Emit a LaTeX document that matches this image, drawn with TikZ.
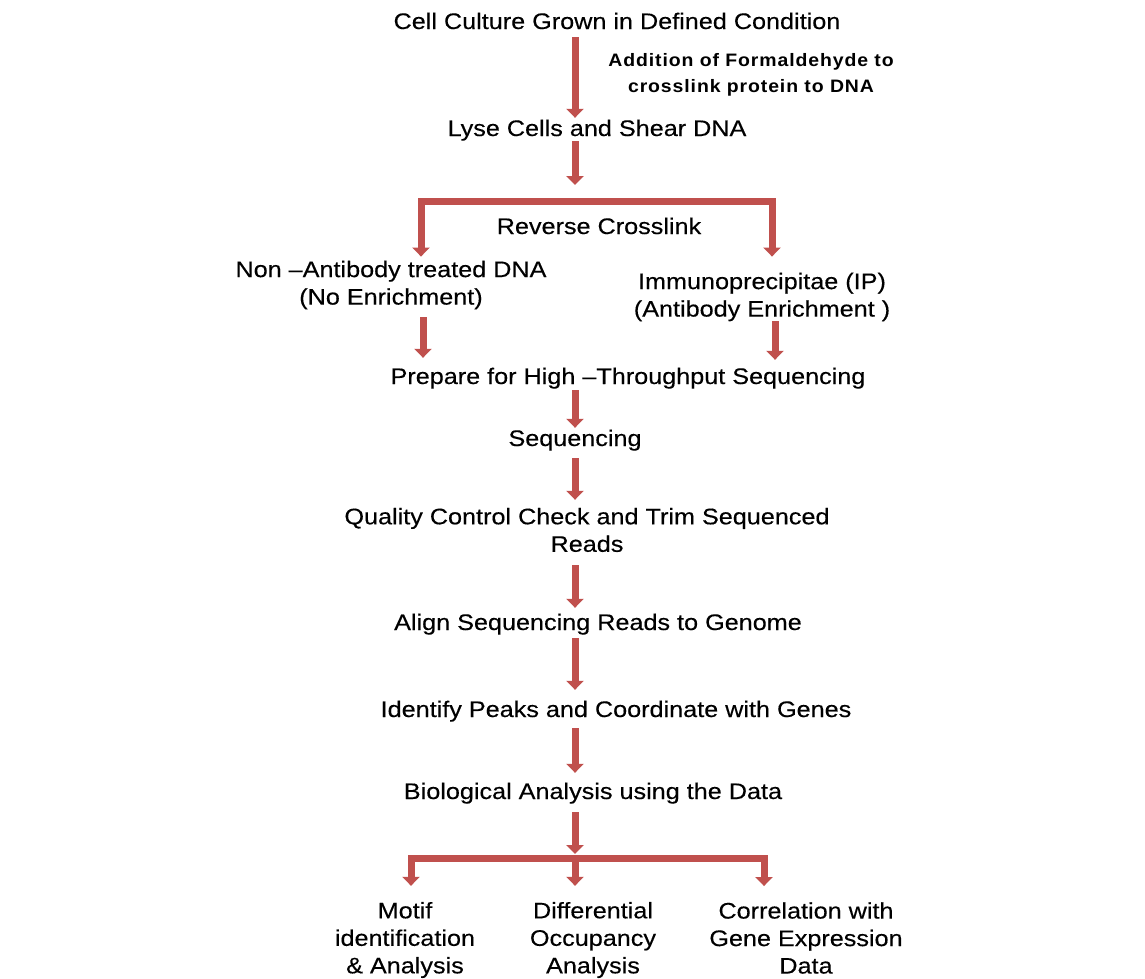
\documentclass[tikz,border=0pt]{standalone}
\usepackage{fontspec}
\setmainfont[FakeStretch=1.12,FakeBold=0.3]{Liberation Sans}
\newfontfamily\formfont[FakeStretch=1.08,LetterSpace=5]{Liberation Sans}
\usetikzlibrary{arrows.meta}
\definecolor{arrred}{HTML}{C0504D}
\begin{document}
\begin{tikzpicture}[x=1pt,y=-1pt,
  txt/.style={inner sep=0pt, font=\fontsize{22.5}{27}\selectfont, text height=18pt, text depth=2pt},
  mtxt/.style={inner sep=0pt, font=\fontsize{22.5}{27.5}\selectfont, align=center},
  ftxt/.style={inner sep=0pt, font=\formfont\bfseries\fontsize{18}{26}\selectfont, align=center},
  arr/.style={draw=arrred, line width=7pt, line join=miter, -{Triangle[width=17pt,length=9pt]}},
  barline/.style={draw=arrred, line width=7pt}]
\useasboundingbox (0,0) rectangle (1145,978);
% text nodes
\node[txt] (cell) at (617,21) {Cell Culture Grown in Defined Condition};
\node[ftxt] (form) at (751,75) {Addition of Formaldehyde to\\crosslink protein to DNA};
\node[txt] (lyse) at (597,128) {Lyse Cells and Shear DNA};
\node[txt] (rev) at (599,226) {Reverse Crosslink};
\node[mtxt] (non) at (391,285) {Non –Antibody treated DNA\\(No Enrichment)};
\node[mtxt] (ip) at (762,297) {Immunoprecipitae (IP)\\(Antibody Enrichment )};
\node[txt] (prep) at (628,376) {Prepare for High –Throughput Sequencing};
\node[txt] (seq) at (575,438) {Sequencing};
\node[mtxt] (qc) at (587,530) {Quality Control Check and Trim Sequenced\\Reads};
\node[txt] (align) at (598,622) {Align Sequencing Reads to Genome};
\node[txt] (ident) at (616,709) {Identify Peaks and Coordinate with Genes};
\node[txt] (bio) at (593,791) {Biological Analysis using the Data};
\node[mtxt] (motif) at (405,940) {Motif\\identification\\\& Analysis};
\node[mtxt] (diff) at (593,940) {Differential\\Occupancy\\Analysis};
\node[mtxt] (corr) at (806,938) {Correlation with\\Gene Expression\\Data};
% helper coordinates
\coordinate (sp) at (575,0);
\coordinate (tbarL) at (421,201);
\coordinate (tbarR) at (776,201);
\coordinate (tv) at (772,198);
\coordinate (lx) at (423,0);
\coordinate (rx) at (775,0);
\coordinate (bbL) at (411,858);
\coordinate (bbR) at (761,858);
\coordinate (bbM) at (575,855);
\coordinate (bbRv) at (764,855);
% main spine
\draw[arr, shorten <=6pt] (cell.south -| sp) -- (lyse.north -| sp);
\draw[arr, shorten <=3pt, shorten >=16pt] (lyse.south -| sp) -- (tbarL -| sp);
% reverse crosslink branch
\draw[arr, shorten >=4pt] (tbarR) -- (tbarL) -- (non.north -| tbarL);
\draw[arr, shorten >=16pt] (tv) -- (ip.north -| tv);
\draw[arr, shorten <=8pt, shorten >=8pt] (non.south -| lx) -- (prep.north -| lx);
\draw[arr, shorten >=6pt] (ip.south -| rx) -- (prep.north -| rx);
\draw[arr, shorten <=4pt] (prep.south -| sp) -- (seq.north -| sp);
\draw[arr, shorten <=10pt, shorten >=8pt] (seq.south -| sp) -- (qc.north -| sp);
\draw[arr, shorten <=13pt, shorten >=4pt] (qc.south -| sp) -- (align.north -| sp);
\draw[arr, shorten <=6pt, shorten >=9pt] (align.south -| sp) -- (ident.north -| sp);
\draw[arr, shorten <=9pt, shorten >=8pt] (ident.south -| sp) -- (bio.north -| sp);
\draw[arr, shorten <=11pt, shorten >=4pt] (bio.south -| sp) -- (bbL -| sp);
% final branch
\draw[arr, shorten >=16pt] (bbR) -- (bbL) -- (motif.north -| bbL);
\draw[arr, shorten >=16pt] (bbM) -- (diff.north -| bbM);
\draw[arr, shorten >=16pt] (bbRv) -- (corr.north -| bbRv);
\end{tikzpicture}
\end{document}
